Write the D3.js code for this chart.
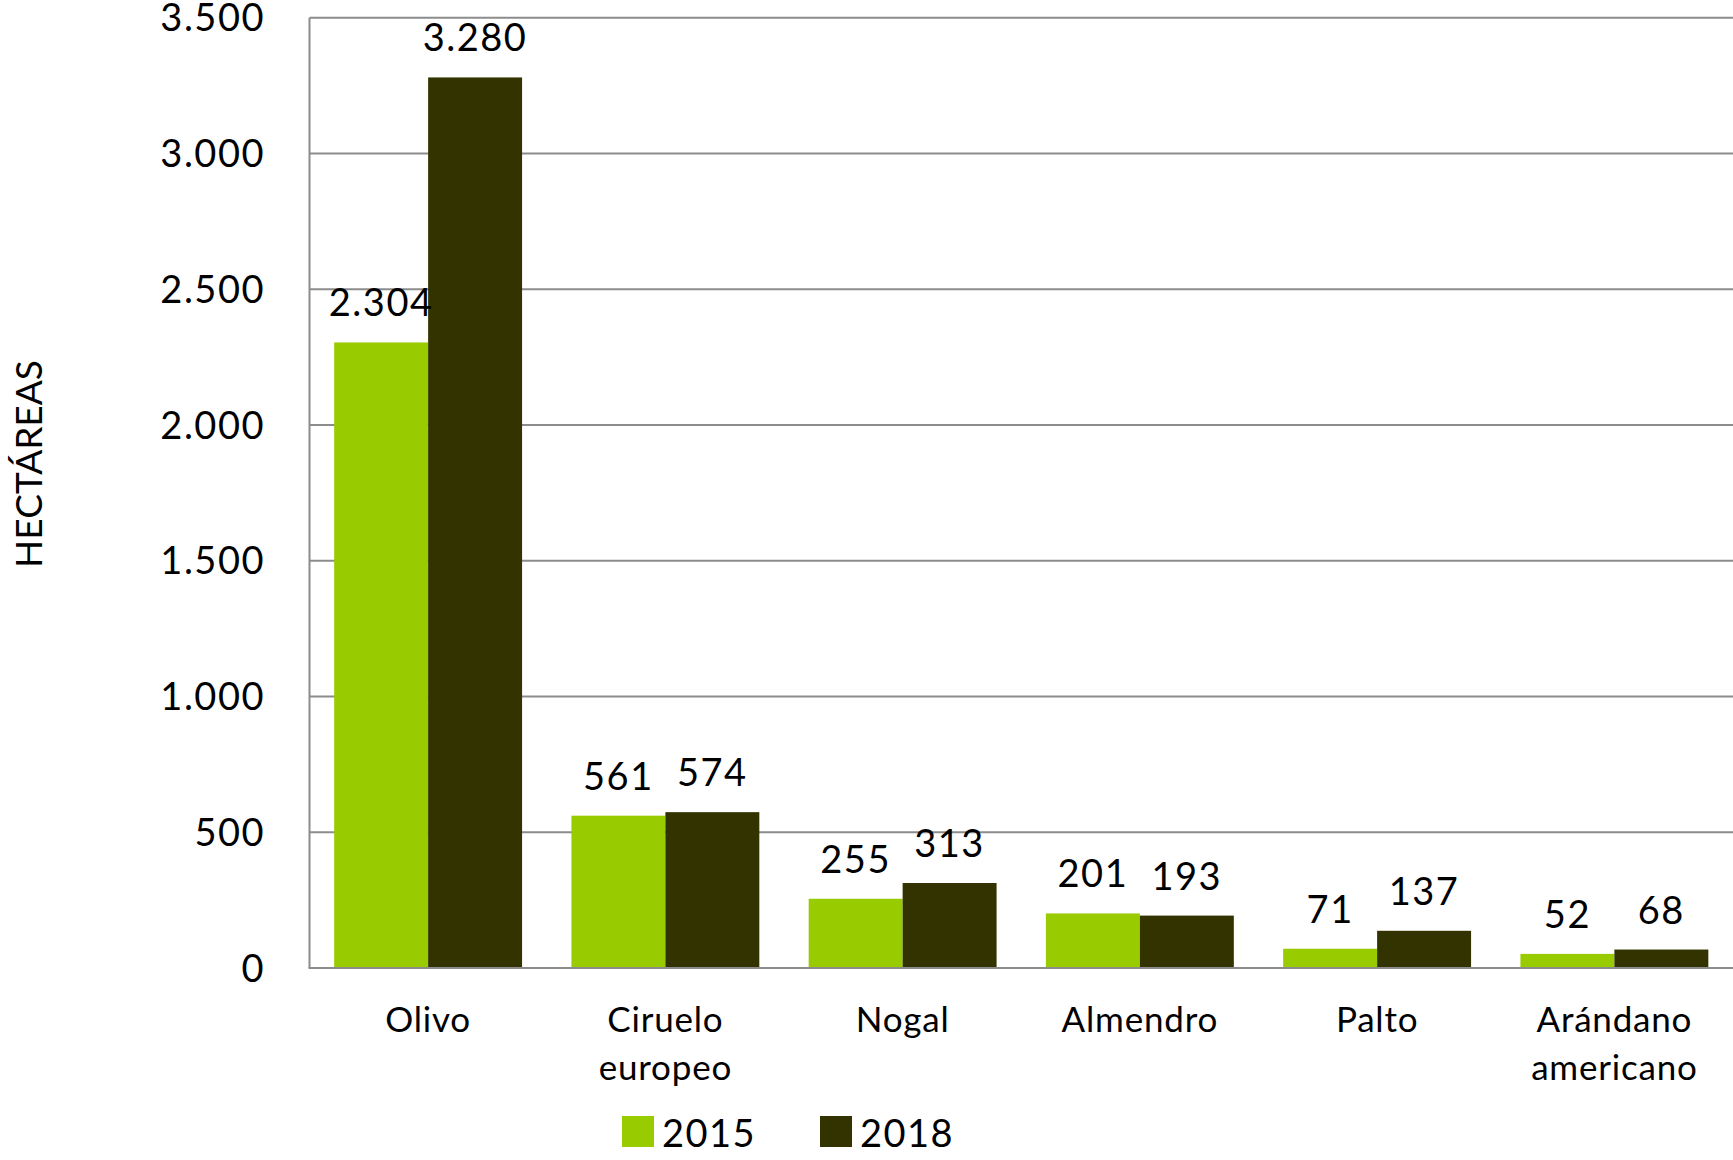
<!DOCTYPE html>
<html>
<head>
<meta charset="utf-8">
<script src="https://cdn.jsdelivr.net/npm/d3@7"></script>
<style>
  html, body { margin: 0; padding: 0; background: #fff; }
  svg text { font-family: Lato, "Open Sans", sans-serif; font-weight: 400; fill: #000; }
</style>
</head>
<body>
<svg id="chart" width="1733" height="1160"></svg>
<script>
const categories = ["Olivo", "Ciruelo europeo", "Nogal", "Almendro", "Palto", "Arándano americano"];
const categoryLines = [["Olivo"], ["Ciruelo", "europeo"], ["Nogal"], ["Almendro"], ["Palto"], ["Arándano", "americano"]];
const seriesNames = ["2015", "2018"];
const values2015 = [2304, 561, 255, 201, 71, 52];
const values2018 = [3280, 574, 313, 193, 137, 68];
const seriesColors = ["#99CC00", "#333300"];
const yTicks = [0, 500, 1000, 1500, 2000, 2500, 3000, 3500];
const yTitle = "HECTÁREAS";

const fmt = v => d3.format(",")(v).replace(/,/g, ".");

const svg = d3.select("#chart");
const m = { left: 309.5, right: 1733, top: 17.7, bottom: 968 };

const x0 = d3.scaleBand().domain(categories).range([m.left, m.right])
  .paddingInner(0.208).paddingOuter(0.104);
const x1 = d3.scaleBand().domain(seriesNames).range([0, x0.bandwidth()]).padding(0);
const y = d3.scaleLinear().domain([0, 3500]).range([m.bottom, m.top]);

// gridlines
svg.append("g").selectAll("line").data(yTicks.filter(t => t > 0)).join("line")
  .attr("x1", m.left).attr("x2", m.right)
  .attr("y1", d => y(d)).attr("y2", d => y(d))
  .attr("stroke", "#8c8c8c").attr("stroke-width", 2);

// bars
const seriesData = [values2015, values2018];
seriesNames.forEach((s, si) => {
  const g = svg.append("g");
  g.selectAll("rect").data(categories).join("rect")
    .attr("x", (c) => x0(c) + x1(s))
    .attr("y", (c, i) => y(seriesData[si][i]))
    .attr("width", x1.bandwidth())
    .attr("height", (c, i) => y(0) - y(seriesData[si][i]))
    .attr("fill", seriesColors[si]);
});

// axes lines
svg.append("line").attr("x1", m.left).attr("x2", m.left).attr("y1", m.top).attr("y2", m.bottom)
  .attr("stroke", "#8c8c8c").attr("stroke-width", 2);
svg.append("line").attr("x1", m.left - 1).attr("x2", m.right).attr("y1", y(0)).attr("y2", y(0))
  .attr("stroke", "#8c8c8c").attr("stroke-width", 2);

// data labels
seriesNames.forEach((s, si) => {
  svg.append("g").selectAll("text").data(categories).join("text")
    .attr("x", c => x0(c) + x1(s) + x1.bandwidth() / 2)
    .attr("y", (c, i) => y(seriesData[si][i]) - 26)
    .attr("text-anchor", "middle")
    .attr("font-size", 38)
    .attr("letter-spacing", 1.5)
    .text((c, i) => fmt(seriesData[si][i]));
});

// y tick labels
svg.append("g").selectAll("text").data(yTicks).join("text")
  .attr("x", 265).attr("y", d => y(d))
  .attr("dy", "0.36em")
  .attr("text-anchor", "end")
  .attr("font-size", 38)
  .attr("letter-spacing", 1.5)
  .text(d => fmt(d));

// category labels
const cat = svg.append("g").selectAll("text").data(categories).join("text")
  .attr("x", c => x0(c) + x0.bandwidth() / 2)
  .attr("y", 1032)
  .attr("text-anchor", "middle")
  .attr("font-size", 35)
  .attr("letter-spacing", 0.8);
cat.each(function(c, i) {
  const t = d3.select(this);
  categoryLines[i].forEach((line, li) => {
    t.append("tspan").attr("x", x0(c) + x0.bandwidth() / 2).attr("dy", li === 0 ? 0 : 48).text(line);
  });
});

// y title
svg.append("text")
  .attr("transform", "translate(42,464) rotate(-90)")
  .attr("text-anchor", "middle")
  .attr("font-size", 37)
  .text(yTitle);

// legend
const legendX = [622, 820];
seriesNames.forEach((s, si) => {
  svg.append("rect").attr("x", legendX[si]).attr("y", 1116).attr("width", 32).attr("height", 31)
    .attr("fill", seriesColors[si]);
  svg.append("text").attr("x", legendX[si] + 40).attr("y", 1147)
    .attr("font-size", 38).attr("letter-spacing", 1.5).text(s);
});
</script>
</body>
</html>
